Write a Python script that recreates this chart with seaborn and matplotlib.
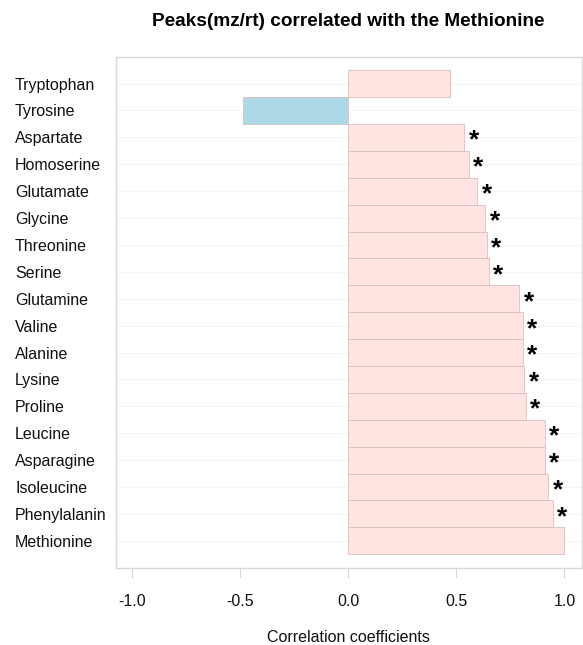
import matplotlib
matplotlib.use("Agg")
import matplotlib.pyplot as plt
import seaborn as sns
import pandas as pd

compounds = ["Tryptophan", "Tyrosine", "Aspartate", "Homoserine", "Glutamate",
             "Glycine", "Threonine", "Serine", "Glutamine", "Valine", "Alanine",
             "Lysine", "Proline", "Leucine", "Asparagine", "Isoleucine",
             "Phenylalanin", "Methionine"]
correlation = [0.471, -0.486, 0.537, 0.556, 0.597, 0.633, 0.641, 0.651, 0.792,
               0.807, 0.807, 0.815, 0.820, 0.908, 0.908, 0.926, 0.946, 1.0]
significant = [False, False, True, True, True, True, True, True, True, True,
               True, True, True, True, True, True, True, False]
x_ticks = [-1.0, -0.5, 0.0, 0.5, 1.0]
x_tick_labels = ["-1.0", "-0.5", "0.0", "0.5", "1.0"]

df = pd.DataFrame({"compound": compounds, "r": correlation, "sig": significant})
df["sign"] = ["pos" if v >= 0 else "neg" for v in df["r"]]

sns.set_theme(style="white")
plt.rcParams["font.family"] = ["Liberation Sans", "DejaVu Sans"]

fig = plt.figure(figsize=(5.83, 6.45), dpi=100)
ax = fig.add_axes([0.1985, 0.1198, 0.9978 - 0.1985, 0.9121 - 0.1198])

sns.barplot(data=df, x="r", y="compound", hue="sign", order=compounds,
            palette={"pos": "#FFE4E1", "neg": "#ADD8E6"}, width=1.0,
            saturation=1.0, edgecolor="#D9C0C0", linewidth=0.6, legend=False,
            ax=ax, orient="h", dodge=False)

for i, (v, s) in enumerate(zip(df["r"], df["sig"])):
    if s:
        ax.text(v + 0.02, i + 0.12, "*", ha="left", va="center",
                fontsize=19, fontweight="bold", color="black")

ax.set_xlim(-1.077, 1.08)
ax.set_ylim(18.0, -1.0)
ax.set_xticks(x_ticks)
ax.set_xticklabels(x_tick_labels)

for y in range(len(compounds)):
    ax.axhline(y, color="#F5F5F5", linewidth=0.8, zorder=0)

for sp in ax.spines.values():
    sp.set_visible(True)
    sp.set_color("#D9D9D9")
    sp.set_linewidth(1.0)

ax.tick_params(axis="x", length=7, width=0.8, color="#D9D9D9", pad=12,
               labelsize=11.5, labelcolor="#111111", bottom=True)
ax.tick_params(axis="y", length=0, pad=72.5, labelsize=11.5, labelcolor="#111111")
for lab in ax.get_yticklabels():
    lab.set_horizontalalignment("left")

ax.set_ylabel("")
ax.set_xlabel("Correlation coefficients", fontsize=11.5, labelpad=15, color="#111111")
ax.set_title("Peaks(mz/rt) correlated with the Methionine", fontsize=13.7,
             fontweight="bold", pad=22, color="black")

fig.savefig("out.png", dpi=100)
